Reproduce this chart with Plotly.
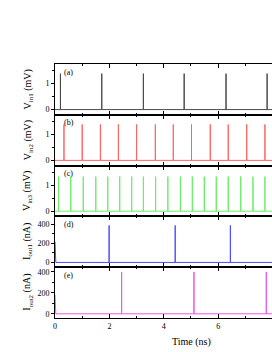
import plotly.graph_objects as go
from plotly.subplots import make_subplots

# ---- data ----
t_end = 10.0
spikes_a = [0.20, 1.72, 3.25, 4.75, 6.29, 7.80]
height_a = 1.38
spikes_b = [0.33, 1.00, 1.67, 2.33, 3.00, 3.69, 4.35, 5.02, 5.71, 6.37, 7.05, 7.72]
height_b = 1.38
spikes_c = [0.13, 0.58, 1.04, 1.50, 1.94, 2.38, 2.82, 3.25, 3.70, 4.15, 4.61,
            5.05, 5.49, 5.93, 6.37, 6.83, 7.28, 7.72]
height_c = 1.33
spikes_d = [1.99, 4.42, 6.45]
height_d = 390
start_d = 220
spikes_e = [2.45, 5.11, 7.77]
height_e = 400
start_e = 180

panel_labels = ["(a)", "(b)", "(c)", "(d)", "(e)"]
y_titles = ["V<sub>in1</sub> (mV)", "V<sub>in2</sub> (mV)", "V<sub>in3</sub> (mV)",
            "I<sub>out1</sub> (nA)", "I<sub>out2</sub> (nA)"]
colors = ["#4a4a4a", "#ff6464", "#6aee6a", "#4c4cff", "#ee55ee"]


def pulse_train(times, h, start=0.0):
    xs, ys = [0.0], [start]
    if start:
        xs.append(0.03)
        ys.append(0.0)
    for t in times:
        xs += [t, t, t]
        ys += [0.0, h, 0.0]
    xs.append(t_end)
    ys.append(0.0)
    return xs, ys


series = [pulse_train(spikes_a, height_a), pulse_train(spikes_b, height_b),
          pulse_train(spikes_c, height_c), pulse_train(spikes_d, height_d, start_d),
          pulse_train(spikes_e, height_e, start_e)]

fig = make_subplots(rows=5, cols=1, shared_xaxes=True, vertical_spacing=0)
for i, (xs, ys) in enumerate(series):
    fig.add_trace(go.Scatter(x=xs, y=ys, mode="lines",
                             line=dict(color=colors[i], width=1), showlegend=False),
                  row=i + 1, col=1)

font = dict(family="Liberation Serif", size=8, color="black")
y_ranges = [[-0.2, 1.75], [-0.2, 1.75], [-0.2, 1.75], [-50, 485], [-40, 445]]
for i in range(5):
    volt = i < 3
    fig.update_yaxes(row=i + 1, col=1, range=y_ranges[i],
                     tickvals=[0, 1] if volt else [0, 200, 400],
                     ticks="outside", ticklen=3, tickcolor="black",
                     minor=dict(dtick=0.5 if volt else 100, tick0=0, ticks="outside",
                                ticklen=2, tickcolor="black"),
                     showline=True, linecolor="black", linewidth=1,
                     showgrid=False, zeroline=False, tickfont=font, fixedrange=True)
    fig.update_xaxes(row=i + 1, col=1, range=[0, 7.98], dtick=2, tick0=0,
                     ticks="inside", ticklen=4, tickcolor="black",
                     minor=dict(dtick=1, ticks="inside", ticklen=2, tickcolor="black"),
                     showline=True, linecolor="black", linewidth=1, mirror="ticks",
                     showgrid=False, zeroline=False, tickfont=font,
                     showticklabels=(i == 4))
    yref = "y domain" if i == 0 else f"y{i + 1} domain"
    fig.add_annotation(text=panel_labels[i], xref="paper", yref=yref, x=0.03, y=0.97,
                       xanchor="left", yanchor="top", showarrow=False, font=font)
    fig.add_annotation(text=y_titles[i], xref="paper", yref=yref, x=-0.124, y=0.5,
                       xanchor="center", yanchor="middle", textangle=-90,
                       showarrow=False,
                       font=dict(family="Liberation Serif", size=10, color="black"))

fig.add_annotation(text="Time (ns)", xref="paper", yref="paper", x=0.627, y=-0.094,
                   xanchor="center", yanchor="middle", showarrow=False,
                   font=dict(family="Liberation Serif", size=10, color="black"))

fig.update_layout(width=272, height=352, margin=dict(l=55, r=0, t=64, b=34),
                  plot_bgcolor="white", paper_bgcolor="white")
fig.write_html("out.html", config={"displayModeBar": False},
               post_script="document.body.style.margin='0';document.body.style.overflow='hidden';")
